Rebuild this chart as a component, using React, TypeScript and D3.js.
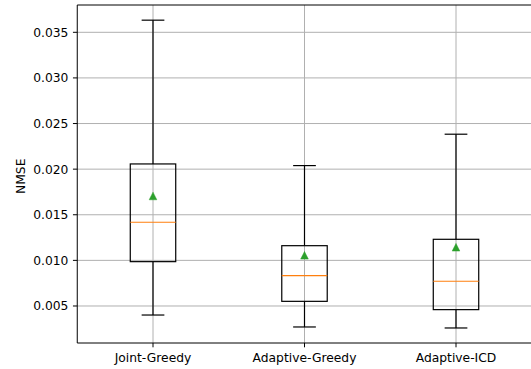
import React from "react";
import * as d3 from "d3";

const categories = ["Joint-Greedy", "Adaptive-Greedy", "Adaptive-ICD"];
const whiskerLow = [0.00401, 0.0027, 0.00259];
const q1 = [0.00986, 0.00551, 0.0046];
const medians = [0.01418, 0.00832, 0.00771];
const q3 = [0.02057, 0.01161, 0.01231];
const whiskerHigh = [0.03633, 0.02039, 0.02383];
const means = [0.01706, 0.01056, 0.01144];
const yTicks = [0.005, 0.01, 0.015, 0.02, 0.025, 0.03, 0.035];

const W = 531;
const H = 369;
const left = 77.25;
const right = 531.75;
const top = 5;
const bottom = 343;
const FONT = "DejaVu Sans";
const FS = 12.3;

export default function App() {
  const x = d3.scaleLinear().domain([0.5, 3.5]).range([left, right]);
  const y = d3.scaleLinear().domain([0.000943, 0.037993]).range([bottom, top]);
  const boxW = x(1.15) - x(0.85);
  const capW = x(1.075) - x(0.925);
  const tri = 3.8;
  const lw = 1.2;
  const triPath = (cx: number, cy: number) =>
    `M${cx},${cy - tri}L${cx - tri},${cy + tri}L${cx + tri},${cy + tri}Z`;

  return (
    <svg
      width={W}
      height={H}
      style={{ position: "absolute", left: 0, top: 0, background: "#fff" }}
      fontFamily={FONT}
    >
      <rect x={0} y={0} width={W} height={H} fill="#fff" />
      {/* grid */}
      {yTicks.map((t) => (
        <line key={"gy" + t} x1={left} x2={right} y1={y(t)} y2={y(t)} stroke="#b0b0b0" strokeWidth={1} />
      ))}
      {categories.map((c, i) => (
        <line key={"gx" + c} x1={x(i + 1)} x2={x(i + 1)} y1={top} y2={bottom} stroke="#b0b0b0" strokeWidth={1} />
      ))}
      {/* boxes */}
      {categories.map((c, i) => {
        const cx = x(i + 1);
        return (
          <g key={c}>
            <line x1={cx} x2={cx} y1={y(q1[i])} y2={y(whiskerLow[i])} stroke="#000" strokeWidth={lw} />
            <line x1={cx} x2={cx} y1={y(q3[i])} y2={y(whiskerHigh[i])} stroke="#000" strokeWidth={lw} />
            <line x1={cx - capW / 2} x2={cx + capW / 2} y1={y(whiskerLow[i])} y2={y(whiskerLow[i])} stroke="#000" strokeWidth={lw} />
            <line x1={cx - capW / 2} x2={cx + capW / 2} y1={y(whiskerHigh[i])} y2={y(whiskerHigh[i])} stroke="#000" strokeWidth={lw} />
            <rect
              x={cx - boxW / 2}
              y={y(q3[i])}
              width={boxW}
              height={y(q1[i]) - y(q3[i])}
              fill="none"
              stroke="#000"
              strokeWidth={lw}
            />
            <line x1={cx - boxW / 2} x2={cx + boxW / 2} y1={y(medians[i])} y2={y(medians[i])} stroke="#ff7f0e" strokeWidth={lw} />
            <path d={triPath(cx, y(means[i]))} fill="#2ca02c" stroke="#2ca02c" strokeWidth={0.5} />
          </g>
        );
      })}
      {/* spines */}
      <line x1={left} x2={left} y1={top} y2={bottom} stroke="#000" strokeWidth={1} />
      <line x1={left} x2={right} y1={bottom} y2={bottom} stroke="#000" strokeWidth={1} />
      <line x1={left} x2={right} y1={top} y2={top} stroke="#000" strokeWidth={1} />
      <line x1={right} x2={right} y1={top} y2={bottom} stroke="#000" strokeWidth={1} />
      {/* y ticks */}
      {yTicks.map((t) => (
        <g key={"ty" + t}>
          <line x1={left - 4.3} x2={left} y1={y(t)} y2={y(t)} stroke="#000" strokeWidth={1} />
          <text x={left - 8.8} y={y(t)} dy="0.36em" textAnchor="end" fontSize={FS} fill="#000">
            {d3.format(".3f")(t)}
          </text>
        </g>
      ))}
      {/* x ticks */}
      {categories.map((c, i) => (
        <g key={"tx" + c}>
          <line x1={x(i + 1)} x2={x(i + 1)} y1={bottom} y2={bottom + 4.3} stroke="#000" strokeWidth={1} />
          <text x={x(i + 1)} y={361.5} textAnchor="middle" fontSize={FS} fill="#000">
            {c}
          </text>
        </g>
      ))}
      <text
        transform={`translate(24.5,176.3) rotate(-90)`}
        textAnchor="middle"
        fontSize={FS}
        fill="#000"
      >
        NMSE
      </text>
    </svg>
  );
}
